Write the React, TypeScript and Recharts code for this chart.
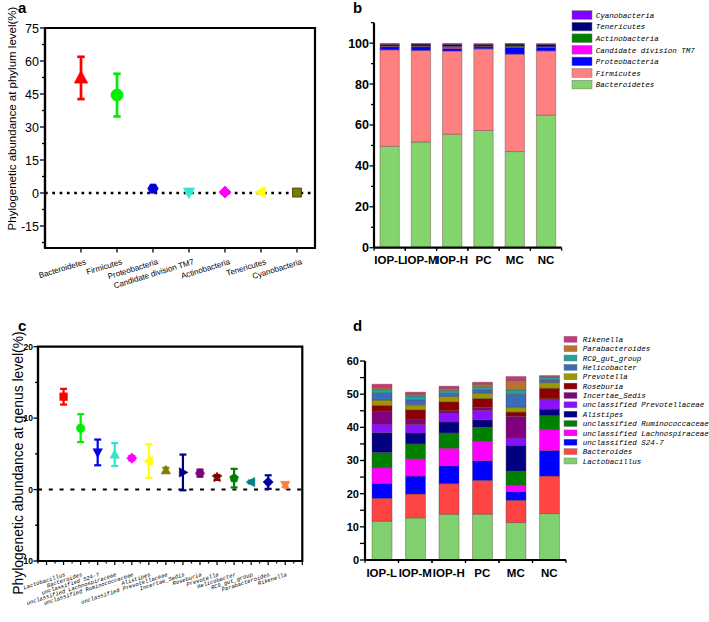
import React from 'react';
import { ScatterChart, Scatter, XAxis, YAxis, ErrorBar, ReferenceLine, ReferenceArea, BarChart, Bar } from 'recharts';

// ---------- Panel a: phylum level ----------
const phyla = ['Bacteroidetes', 'Firmicutes', 'Proteobacteria', 'Candidate division TM7', 'Actinobacteria', 'Tenericutes', 'Cyanobacteria'];
const phylumMean = [52.3, 44.5, 2.0, 0.3, 0.4, 0.4, 0.2];
const phylumErr = [9.6, 9.7, 0.5, 0.2, 0.2, 0.2, 0.1];
const phylumMarkerColors = ['#ff0000', '#00ee00', '#0000dd', '#33e6d6', '#ff00ff', '#ffff00', '#7a7a00'];
const phylumShapes = ['triangle', 'circle', 'hexagon', 'triangleDown', 'diamond', 'triangleLeft', 'square'];
const phylumYTicks = [-22.5, -15, -7.5, 0, 7.5, 15, 22.5, 30, 37.5, 45, 52.5, 60, 67.5, 75];

// ---------- Panel b: phylum stacks ----------
const groups = ['IOP-L', 'IOP-M', 'IOP-H', 'PC', 'MC', 'NC'];
const bacteroidetesPct = [49.6, 51.7, 55.5, 57.3, 47.0, 64.8];
const firmicutesPct = [47.1, 44.7, 40.6, 39.9, 47.6, 31.4];
const proteobacteriaPct = [1.6, 1.9, 1.3, 1.1, 3.4, 1.8];
const tm7Pct = [0.2, 0.2, 0.9, 0.1, 0.1, 0.1];
const actinobacteriaPct = [0.1, 0.1, 0.1, 0.1, 0.5, 0.1];
const tenericutesPct = [0.9, 1.0, 1.1, 1.0, 1.0, 1.3];
const cyanobacteriaPct = [0.3, 0.2, 0.3, 0.2, 0.2, 0.2];
const phylumStackColors = ['#84d46e', '#ff8080', '#0000ff', '#ff00ff', '#008000', '#000080', '#8000ff'];
const phylumYTicksB = [0, 10, 20, 30, 40, 50, 60, 70, 80, 90, 100, 110];

// ---------- Panel c: genus level ----------
const genera = ['Lactobacillus', 'Bacteroides', 'unclassified S24-7', 'unclassified Lachnospiraceae', 'unclassified Ruminococcaceae', 'Alistipes', 'unclassified Prevotellaceae', 'Incertae_Sedis', 'Roseburia', 'Prevotella', 'Helicobacter', 'RC9_gut_group', 'Parabacteroides', 'Rikenella'];
const genusMean = [13.0, 8.6, 5.2, 4.9, 4.4, 4.0, 2.7, 2.4, 2.3, 1.7, 1.6, 1.05, 1.05, 0.65];
const genusErr = [1.1, 1.95, 1.8, 1.6, 0.3, 2.35, 0.35, 2.5, 0.5, 0.35, 1.3, 0.2, 0.95, 0.3];
const genusMarkerColors = ['#ff0000', '#00ee00', '#0000ee', '#33e6c8', '#ff00ff', '#ffff00', '#808000', '#000080', '#800080', '#800000', '#008000', '#008080', '#0000a0', '#ff8040'];
const genusShapes = ['square', 'circle', 'triangleDown', 'triangle', 'diamond', 'triangleLeft', 'triangle', 'triangleRight', 'hexagon', 'star', 'pentagon', 'triangleLeft', 'diamond', 'triangleDown'];
const genusYTicks = [-10, -5, 0, 5, 10, 15, 20];
const genusXTicks = [-0.5, 0, 0.5, 1, 1.5, 2, 2.5, 3, 3.5, 4, 4.5, 5, 5.5, 6, 6.5, 7, 7.5, 8, 8.5, 9, 9.5, 10, 10.5, 11, 11.5, 12, 12.5, 13, 13.5, 14, 14.5, 15];

// ---------- Panel d: genus stacks ----------
const lactobacillusPct = [11.7, 12.7, 13.8, 13.8, 11.3, 14.0];
const bacteroidesPct = [6.9, 7.2, 9.2, 10.2, 6.7, 11.3];
const s24Pct = [4.5, 5.4, 5.4, 5.9, 2.6, 7.7];
const lachnoPct = [4.7, 5.2, 5.3, 5.9, 2.0, 6.3];
const ruminoPct = [4.6, 4.5, 4.6, 4.2, 4.2, 4.2];
const alistipesPct = [6.0, 3.3, 3.3, 2.3, 7.8, 2.0];
const uPrevotellaceaePct = [2.6, 2.5, 2.7, 2.8, 2.2, 2.8];
const incertaePct = [3.9, 1.7, 0.7, 0.9, 6.5, 0.3];
const roseburiaPct = [1.7, 2.8, 2.7, 2.7, 1.3, 3.2];
const prevotellaPct = [1.6, 1.5, 1.6, 1.6, 1.5, 1.7];
const helicobacterPct = [2.1, 1.5, 0.9, 1.0, 3.9, 0.8];
const rc9Pct = [1.1, 1.2, 0.9, 1.0, 1.3, 0.7];
const parabacteroidesPct = [0.6, 0.5, 0.6, 0.7, 2.8, 0.3];
const rikenellaPct = [1.0, 0.6, 0.7, 0.6, 1.2, 0.3];
const genusStackColors = ['#80d070', '#ff4444', '#0000ff', '#ff00ff', '#008000', '#000080', '#8a10ff', '#800080', '#8b0000', '#999900', '#3a6db8', '#2a9d9d', '#b87333', '#cc3380'];
const genusYTicksD = [0, 5, 10, 15, 20, 25, 30, 35, 40, 45, 50, 55, 60];

const phylumSeries = [bacteroidetesPct, firmicutesPct, proteobacteriaPct, tm7Pct, actinobacteriaPct, tenericutesPct, cyanobacteriaPct];
const genusSeries = [lactobacillusPct, bacteroidesPct, s24Pct, lachnoPct, ruminoPct, alistipesPct, uPrevotellaceaePct, incertaePct, roseburiaPct, prevotellaPct, helicobacterPct, rc9Pct, parabacteroidesPct, rikenellaPct];

const phylumRows = groups.map((g, i) => {
  const r: any = { group: g };
  phyla.forEach((p, k) => { r[p] = phylumSeries[k][i]; });
  return r;
});
const genusRows = groups.map((g, i) => {
  const r: any = { group: g };
  genera.forEach((p, k) => { r[p] = genusSeries[k][i]; });
  return r;
});

const FONT = '"Liberation Sans", Arial, sans-serif';
const MONO = '"Liberation Mono", "DejaVu Sans Mono", monospace';

function shapePath(shape: string, cx: number, cy: number, s: number): string {
  const r = s / 2;
  const poly = (pts: number[][]) => 'M' + pts.map(p => `${(cx + p[0] * r).toFixed(2)},${(cy + p[1] * r).toFixed(2)}`).join('L') + 'Z';
  const ring = (n: number, start: number, rad: (k: number) => number) => {
    const pts: number[][] = [];
    for (let k = 0; k < n; k++) {
      const a = start + (k * 2 * Math.PI) / n;
      pts.push([Math.cos(a) * rad(k), Math.sin(a) * rad(k)]);
    }
    return poly(pts);
  };
  switch (shape) {
    case 'square': return poly([[-0.9, -0.9], [0.9, -0.9], [0.9, 0.9], [-0.9, 0.9]]);
    case 'triangle': return poly([[0, -1.2], [1.1, 0.85], [-1.1, 0.85]]);
    case 'triangleDown': return poly([[0, 1.2], [1.1, -0.85], [-1.1, -0.85]]);
    case 'triangleLeft': return poly([[-1.2, 0], [0.85, -1.1], [0.85, 1.1]]);
    case 'triangleRight': return poly([[1.2, 0], [-0.85, -1.1], [-0.85, 1.1]]);
    case 'diamond': return poly([[0, -1.2], [1.2, 0], [0, 1.2], [-1.2, 0]]);
    case 'hexagon': return ring(6, 0, () => 1.05);
    case 'pentagon': return ring(5, -Math.PI / 2, () => 1.1);
    case 'star': return ring(10, -Math.PI / 2, k => (k % 2 === 0 ? 1.25 : 0.55));
    default:
      return `M${cx - r},${cy}a${r},${r} 0 1,0 ${2 * r},0a${r},${r} 0 1,0 ${-2 * r},0Z`;
  }
}

const YTick = (props: any) => {
  const { x, y, payload, majorEvery, fontSize, bold, majorLen, minorLen, gap } = props;
  const v = payload.value;
  const isMajor = Math.abs(v / majorEvery - Math.round(v / majorEvery)) < 1e-6;
  return (
    <g>
      <line x1={x} x2={x - (isMajor ? majorLen : minorLen)} y1={y} y2={y} stroke="#000" strokeWidth={1.3} />
      {isMajor && (
        <text x={x - gap} y={y} dy="0.36em" textAnchor="end" fontFamily={FONT} fontSize={fontSize} fontWeight={bold ? 'bold' : 'normal'} fill="#000">{v}</text>
      )}
    </g>
  );
};

const PhylumXTick = (props: any) => {
  const { x, y, payload } = props;
  const idx = Math.round(payload.value) - 1;
  const name = phyla[idx];
  return (
    <g>
      <line x1={x} x2={x} y1={y} y2={y + 4.5} stroke="#000" strokeWidth={1.3} />
      {name && (
        <text transform={`translate(${x + 5.5},${y + 16}) rotate(-17)`} textAnchor="end" fontFamily={FONT} fontSize={8} fill="#000">{name}</text>
      )}
    </g>
  );
};

const GenusXTick = (props: any) => {
  const { x, y, payload } = props;
  const v = payload.value;
  const isMajor = Math.abs(v - Math.round(v)) < 1e-6;
  const idx = Math.round(v) - 1;
  const name = isMajor ? genera[idx] : undefined;
  return (
    <g>
      <line x1={x} x2={x} y1={y} y2={y + (isMajor ? 4 : 2.5)} stroke="#000" strokeWidth={1.2} />
      {name && (
        <text transform={`translate(${x + 2},${y + 15}) rotate(-18)`} textAnchor="end" fontFamily={MONO} fontStyle="italic" fontSize={5.6} fill="#000">{name}</text>
      )}
    </g>
  );
};

const BarXTick = (props: any) => {
  const { x, y, payload, half, dy } = props;
  return (
    <g>
      <line x1={x - half} x2={x - half} y1={y} y2={y + 3} stroke="#000" strokeWidth={1.2} />
      <line x1={x + half} x2={x + half} y1={y} y2={y + 3} stroke="#000" strokeWidth={1.2} />
      <text x={x} y={y + dy} textAnchor="middle" fontFamily={FONT} fontWeight="bold" fontSize={11.5} fill="#000">{payload.value}</text>
    </g>
  );
};

function PanelA() {
  return (
    <ScatterChart width={330} height={300} margin={{ top: 28, right: 15, bottom: 0, left: 0 }}>
      <XAxis type="number" dataKey="x" domain={[0, 7.5]} ticks={[1, 2, 3, 4, 5, 6, 7]} interval={0} height={52}
        tickSize={0} tickMargin={0} tickLine={false} axisLine={{ stroke: '#000', strokeWidth: 2.2 }} tick={(p: any) => <PhylumXTick {...p} />} />
      <YAxis type="number" dataKey="y" domain={[-25, 75]} ticks={phylumYTicks} interval={0} width={45}
        tickSize={0} tickMargin={0} tickLine={false} axisLine={{ stroke: '#000', strokeWidth: 2.2 }}
        tick={(p: any) => <YTick {...p} majorEvery={15} fontSize={12.5} bold={false} majorLen={5} minorLen={3} gap={6} />} />
      <ReferenceArea x1={0} x2={7.5} y1={-25} y2={75} fill="none" stroke="#000" strokeWidth={2.2} />
      <ReferenceLine y={0} stroke="#000" strokeWidth={2.6} strokeDasharray="2.7 4.6" />
      {phyla.map((name, i) => (
        <Scatter key={name} name={name} data={[{ x: i + 1, y: phylumMean[i], err: phylumErr[i] }]} isAnimationActive={false}
          shape={(p: any) => <path d={shapePath(phylumShapes[i], p.cx, p.cy, i < 2 ? 12 : 10)} fill={phylumMarkerColors[i]} stroke={i === 6 ? '#333300' : phylumMarkerColors[i]} strokeWidth={0.8} />}>
          <ErrorBar dataKey="err" direction="y" width={3.7} strokeWidth={2.7} stroke={phylumMarkerColors[i]} />
        </Scatter>
      ))}
    </ScatterChart>
  );
}

function PanelC() {
  return (
    <ScatterChart width={320} height={322} margin={{ top: 46.7, right: 17.7, bottom: 0, left: 0 }}>
      <XAxis type="number" dataKey="x" domain={[-0.5, 15]} ticks={genusXTicks} interval={0} height={61}
        tickSize={0} tickMargin={0} tickLine={false} axisLine={{ stroke: '#000', strokeWidth: 2.2 }} tick={(p: any) => <GenusXTick {...p} />} />
      <YAxis type="number" dataKey="y" domain={[-10, 20]} ticks={genusYTicks} interval={0} width={38}
        tickSize={0} tickMargin={0} tickLine={false} axisLine={{ stroke: '#000', strokeWidth: 2.2 }}
        tick={(p: any) => <YTick {...p} majorEvery={10} fontSize={8.5} bold majorLen={4.5} minorLen={3} gap={5} />} />
      <ReferenceArea x1={-0.5} x2={15} y1={-10} y2={20} fill="none" stroke="#000" strokeWidth={2.2} />
      <ReferenceLine y={0} stroke="#000" strokeWidth={2} strokeDasharray="4 6.8" />
      {genera.map((name, i) => (
        <Scatter key={name} name={name} data={[{ x: i + 1, y: genusMean[i], err: genusErr[i] }]} isAnimationActive={false}
          shape={(p: any) => <path d={shapePath(genusShapes[i], p.cx, p.cy, 8.5)} fill={genusMarkerColors[i]} stroke={genusMarkerColors[i]} strokeWidth={0.6} />}>
          <ErrorBar dataKey="err" direction="y" width={3.5} strokeWidth={2.2} stroke={genusMarkerColors[i]} />
        </Scatter>
      ))}
    </ScatterChart>
  );
}

function PanelB() {
  return (
    <BarChart width={230} height={300} data={phylumRows} margin={{ top: 22.7, right: 8.3, bottom: 0, left: 0 }} barSize={19.3}>
      <XAxis dataKey="group" type="category" interval={0} height={52.3} tickSize={0} tickMargin={0} tickLine={false}
        axisLine={{ stroke: '#000', strokeWidth: 2.2 }} tick={(p: any) => <BarXTick {...p} half={15.6} dy={16.5} />} />
      <YAxis type="number" domain={[0, 110]} ticks={phylumYTicksB} interval={0} width={34}
        tickSize={0} tickMargin={0} tickLine={false} axisLine={{ stroke: '#000', strokeWidth: 2.2 }}
        tick={(p: any) => <YTick {...p} majorEvery={20} fontSize={12.5} bold majorLen={4.5} minorLen={3} gap={5} />} />
      {phyla.map((name, k) => (
        <Bar key={name} dataKey={name} stackId="s" fill={phylumStackColors[k]} stroke="#7a5050" strokeWidth={0.5} isAnimationActive={false} />
      ))}
    </BarChart>
  );
}

function PanelD() {
  return (
    <BarChart width={240} height={322} data={genusRows} margin={{ top: 61, right: 14, bottom: 0, left: 0 }} barSize={20}>
      <XAxis dataKey="group" type="category" interval={0} height={62} tickSize={0} tickMargin={0} tickLine={false}
        axisLine={{ stroke: '#000', strokeWidth: 2.2 }} tick={(p: any) => <BarXTick {...p} half={16.75} dy={17} />} />
      <YAxis type="number" domain={[0, 60]} ticks={genusYTicksD} interval={0} width={25}
        tickSize={0} tickMargin={0} tickLine={false} axisLine={{ stroke: '#000', strokeWidth: 2.2 }}
        tick={(p: any) => <YTick {...p} majorEvery={10} fontSize={11} bold majorLen={5} minorLen={5} gap={6} />} />
      {genera.map((name, k) => (
        <Bar key={name} dataKey={name} stackId="s" fill={genusStackColors[k]} stroke="#5a4040" strokeWidth={0.4} isAnimationActive={false} />
      ))}
    </BarChart>
  );
}

function Overlay() {
  const bLegend = phyla.map((n, k) => ({ n, c: phylumStackColors[k] })).reverse();
  const dLegend = genera.map((n, k) => ({ n, c: genusStackColors[k] })).reverse();
  return (
    <svg width={709} height={622} style={{ position: 'absolute', left: 0, top: 0, pointerEvents: 'none' }}>
      <text x={18} y={13} fontFamily={FONT} fontWeight="bold" fontSize={15}>a</text>
      <text x={353} y={13} fontFamily={FONT} fontWeight="bold" fontSize={15}>b</text>
      <text x={18} y={331} fontFamily={FONT} fontWeight="bold" fontSize={15}>c</text>
      <text x={353} y={331} fontFamily={FONT} fontWeight="bold" fontSize={15}>d</text>
      <text transform="translate(16,118.5) rotate(-90)" textAnchor="middle" fontFamily={FONT} fontSize={11.5}>Phylogenetic abundance at phylum level(%)</text>
      <text transform="translate(22.5,463) rotate(-90)" textAnchor="middle" fontFamily={FONT} fontSize={13.9}>Phylogenetic abundance at genus level(%)</text>
      {bLegend.map((e, i) => (
        <g key={e.n}>
          <rect x={572} y={15 + i * 11.6 - 4.3} width={20} height={8.6} fill={e.c} stroke="#777" strokeWidth={0.5} />
          <text x={595.7} y={15 + i * 11.6 + 2.7} fontFamily={MONO} fontStyle="italic" fontSize={7.5}>{e.n}</text>
        </g>
      ))}
      {dLegend.map((e, i) => (
        <g key={e.n}>
          <rect x={564} y={339.3 + i * 9.36 - 3} width={13} height={6} fill={e.c} stroke="#777" strokeWidth={0.4} />
          <text x={582.7} y={339.3 + i * 9.36 + 2.6} fontFamily={MONO} fontStyle="italic" fontSize={7.5}>{e.n}</text>
        </g>
      ))}
    </svg>
  );
}

export default function App() {
  return (
    <div style={{ position: 'absolute', left: 0, top: 0, width: 709, height: 622, background: '#fff', overflow: 'hidden' }}>
      <div style={{ position: 'absolute', left: 0, top: 0 }}><PanelA /></div>
      <div style={{ position: 'absolute', left: 340, top: 0 }}><PanelB /></div>
      <div style={{ position: 'absolute', left: 0, top: 300 }}><PanelC /></div>
      <div style={{ position: 'absolute', left: 340, top: 300 }}><PanelD /></div>
      <Overlay />
    </div>
  );
}
